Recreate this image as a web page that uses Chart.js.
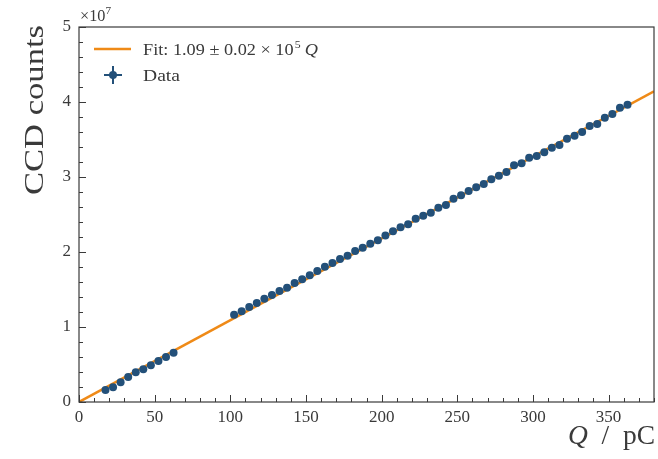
<!DOCTYPE html>
<html>
<head>
<meta charset="utf-8">
<script src="https://cdn.jsdelivr.net/npm/chart.js@4"></script>
<style>
  html, body { margin: 0; padding: 0; background: #fff; }
  #wrap { width: 658px; height: 459px; }
</style>
</head>
<body>
<div id="wrap"><canvas id="ccdChart"></canvas></div>
<script>
// charge in pC, counts in CCD counts
const chargeLow = [17.5, 22.5, 27.5, 32.5, 37.5, 42.5, 47.5, 52.5, 57.5, 62.5];
const countsLow = [1.60e6, 1.96e6, 2.62e6, 3.33e6, 3.96e6, 4.36e6, 4.89e6, 5.47e6, 6.00e6, 6.58e6];

const chargeHigh = [102.5, 107.5, 112.5, 117.5, 122.5, 127.5, 132.5, 137.5, 142.5, 147.5,
  152.5, 157.5, 162.5, 167.5, 172.5, 177.5, 182.5, 187.5, 192.5, 197.5, 202.5,
  207.5, 212.5, 217.5, 222.5, 227.5, 232.5, 237.5, 242.5, 247.5, 252.5,
  257.5, 262.5, 267.5, 272.5, 277.5, 282.5, 287.5, 292.5, 297.5, 302.5, 307.5,
  312.5, 317.5, 322.5, 327.5, 332.5, 337.5, 342.5, 347.5, 352.5, 357.5, 362.5];
const countsHigh = [1.164e7, 1.209e7, 1.267e7, 1.320e7, 1.378e7, 1.427e7, 1.480e7, 1.524e7, 1.587e7, 1.636e7,
  1.689e7, 1.747e7, 1.804e7, 1.853e7, 1.907e7, 1.951e7, 2.013e7, 2.058e7, 2.111e7, 2.156e7, 2.220e7,
  2.276e7, 2.329e7, 2.369e7, 2.444e7, 2.484e7, 2.524e7, 2.591e7, 2.627e7, 2.711e7, 2.756e7,
  2.813e7, 2.863e7, 2.907e7, 2.969e7, 3.017e7, 3.067e7, 3.156e7, 3.183e7, 3.257e7, 3.280e7, 3.331e7,
  3.391e7, 3.427e7, 3.511e7, 3.551e7, 3.600e7, 3.680e7, 3.707e7, 3.791e7, 3.840e7, 3.924e7, 3.964e7];

// fit: counts = slope * Q
const fitSlope = 1.09e5;
const fitRange = [0, 380];

const xTicks = [0, 50, 100, 150, 200, 250, 300, 350];
const yTicks = [0, 1e7, 2e7, 3e7, 4e7, 5e7];

const dataColor = "#235079";
const fitColor = "#ef8a17";
const inkColor = "#3a3a3a";
const serif = "'Liberation Serif', 'DejaVu Serif', serif";

const points = chargeLow.concat(chargeHigh).map((q, i) => ({
  x: q,
  y: countsLow.concat(countsHigh)[i],
}));
const fitLine = fitRange.map((q) => ({ x: q, y: fitSlope * q }));

// draws a list of [text, font, dy, gapAfter] pieces stretched to a target width
function drawPieces(ctx, pieces, x, y, targetWidth) {
  let total = 0;
  pieces.forEach((p) => {
    ctx.font = p[1];
    total += ctx.measureText(p[0]).width + (p[3] || 0);
  });
  const sx = targetWidth / total;
  ctx.save();
  ctx.translate(x, y);
  ctx.scale(sx, 1);
  ctx.textAlign = "left";
  let cx = 0;
  pieces.forEach((p) => {
    ctx.font = p[1];
    ctx.fillText(p[0], cx, p[2] || 0);
    cx += ctx.measureText(p[0]).width + (p[3] || 0);
  });
  ctx.restore();
}

// frame, inward ticks, legend and axis labels
const decorPlugin = {
  id: "decor",
  afterDraw(chart) {
    const ctx = chart.ctx;
    const area = chart.chartArea;
    const xs = chart.scales.x;
    const ys = chart.scales.y;
    ctx.save();

    ctx.strokeStyle = inkColor;
    ctx.lineWidth = 1.2;
    ctx.strokeRect(area.left, area.top, area.right - area.left, area.bottom - area.top);

    ctx.lineWidth = 1;
    ctx.beginPath();
    for (let v = 0; v <= 380; v += 10) {
      const px = Math.round(xs.getPixelForValue(v)) + 0.5;
      const len = v % 50 === 0 ? 7 : 4;
      ctx.moveTo(px, area.bottom);
      ctx.lineTo(px, area.bottom - len);
    }
    for (let v = 0; v <= 5e7; v += 2e6) {
      const py = Math.round(ys.getPixelForValue(v)) + 0.5;
      const len = v % 1e7 === 0 ? 7 : 4;
      ctx.moveTo(area.left, py);
      ctx.lineTo(area.left + len, py);
    }
    ctx.stroke();

    ctx.fillStyle = inkColor;
    ctx.textBaseline = "alphabetic";

    // offset text
    drawPieces(ctx, [["\u00d710", "16px " + serif, 0, 0], ["7", "11px " + serif, -7, 0]], area.left + 1, 21, 31);

    // legend
    ctx.strokeStyle = fitColor;
    ctx.lineWidth = 2.5;
    ctx.beginPath();
    ctx.moveTo(94, 49);
    ctx.lineTo(131, 49);
    ctx.stroke();

    ctx.strokeStyle = dataColor;
    ctx.lineWidth = 2;
    ctx.beginPath();
    ctx.moveTo(104, 75);
    ctx.lineTo(122, 75);
    ctx.moveTo(113, 66);
    ctx.lineTo(113, 84);
    ctx.stroke();
    ctx.fillStyle = dataColor;
    ctx.beginPath();
    ctx.arc(113, 75, 4, 0, Math.PI * 2);
    ctx.fill();

    ctx.fillStyle = inkColor;
    drawPieces(ctx, [
      ["Fit: 1.09 \u00b1 0.02 \u00d7 10", "17px " + serif, 0, 1],
      ["5", "11px " + serif, -7, 4],
      ["Q", "italic 17px " + serif, 0, 0],
    ], 143, 55, 175);
    drawPieces(ctx, [["Data", "17px " + serif, 0, 0]], 143, 81, 37);

    // x axis title
    drawPieces(ctx, [
      ["Q", "italic 27px " + serif, 0, 0],
      ["  /  pC", "27px " + serif, 0, 0],
    ], 568, 444, 87);

    // y axis title
    ctx.save();
    ctx.translate(43, area.top - 2);
    ctx.rotate(-Math.PI / 2);
    drawPieces(ctx, [["CCD counts", "27px " + serif, 0, 0]], -170, 0, 170);
    ctx.restore();

    ctx.restore();
  },
};

const ctx = document.getElementById("ccdChart").getContext("2d");
new Chart(ctx, {
  type: "scatter",
  data: {
    datasets: [
      {
        label: "Data",
        data: points,
        backgroundColor: dataColor,
        borderColor: dataColor,
        pointRadius: 4,
        pointBorderWidth: 0,
        order: 0,
      },
      {
        type: "line",
        label: "Fit",
        data: fitLine,
        borderColor: fitColor,
        borderWidth: 2.5,
        pointRadius: 0,
        fill: false,
        order: 1,
      },
    ],
  },
  options: {
    responsive: true,
    maintainAspectRatio: false,
    animation: false,
    layout: { padding: { top: 27, right: 2, left: 0, bottom: 0 } },
    plugins: {
      legend: { display: false },
      tooltip: { enabled: false },
    },
    scales: {
      x: {
        type: "linear",
        min: 0,
        max: 380,
        grid: { display: false, drawTicks: false },
        border: { display: false },
        afterBuildTicks: (scale) => {
          scale.ticks = xTicks.map((v) => ({ value: v }));
        },
        afterFit: (scale) => {
          scale.height = 57;
        },
        ticks: {
          color: inkColor,
          padding: 5,
          maxRotation: 0,
          font: { family: serif, size: 17 },
        },
      },
      y: {
        type: "linear",
        min: 0,
        max: 5e7,
        grid: { display: false, drawTicks: false },
        border: { display: false },
        afterBuildTicks: (scale) => {
          scale.ticks = yTicks.map((v) => ({ value: v }));
        },
        afterFit: (scale) => {
          scale.width = 79;
        },
        ticks: {
          color: inkColor,
          padding: 8,
          font: { family: serif, size: 17 },
          callback: (v) => String(v / 1e7),
        },
      },
    },
  },
  plugins: [decorPlugin],
});
</script>
</body>
</html>
